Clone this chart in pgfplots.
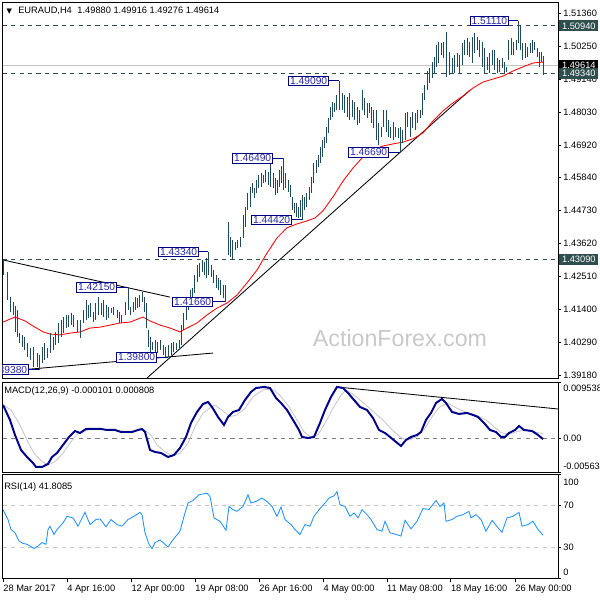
\documentclass[border=0pt]{standalone}
\usepackage{pgfplots}
\usepackage{pgfplotstable}
\pgfplotsset{compat=1.18}
\usepackage{fontspec}
\setmainfont{Liberation Sans}
\newfontfamily\dejavu{DejaVu Sans}
\definecolor{barc}{HTML}{1E4A5C}
\definecolor{lbl}{HTML}{000080}
\definecolor{lbltext}{RGB}{40,40,170}
\definecolor{slate}{HTML}{2F4F4F}
\definecolor{macdc}{HTML}{00008B}
\definecolor{rsic}{HTML}{1E90FF}
\definecolor{wmark}{RGB}{200,200,200}

% H4 bars: x in chart pixels, low, high
\pgfplotstableread{
x l h
3 1.4257 1.4307
7 1.4172 1.4266
10 1.4132 1.4182
13 1.4122 1.4166
15 1.4065 1.4152
17 1.4048 1.4139
19 1.4028 1.4061
22 1.4014 1.4055
24 1.4004 1.4048
27 1.3981 1.4028
30 1.3971 1.4011
33 1.3947 1.4014
37 1.3947 1.3994
39 1.3938 1.3988
42 1.3961 1.4014
44 1.3971 1.4028
47 1.3977 1.4011
50 1.3994 1.4061
53 1.4004 1.4048
55 1.4021 1.4065
58 1.4028 1.4095
61 1.4048 1.4105
63 1.4061 1.4115
66 1.4078 1.4122
68 1.4081 1.4122
71 1.4088 1.4129
73 1.4081 1.4122
77 1.4065 1.4105
80 1.4044 1.4105
83 1.4095 1.4139
86 1.4105 1.4172
88 1.4112 1.4155
90 1.4115 1.4162
93 1.4098 1.4132
95 1.4105 1.4162
98 1.4122 1.4182
101 1.4122 1.4162
103 1.4115 1.4172
106 1.4105 1.4155
108 1.4112 1.4149
111 1.4129 1.4145
113 1.4122 1.4149
117 1.4112 1.4139
119 1.4095 1.4132
121 1.4095 1.4122
125 1.4122 1.4166
128 1.4139 1.4215
130 1.4122 1.4149
133 1.4132 1.4166
135 1.4139 1.4182
137 1.4145 1.4179
139 1.4149 1.4189
142 1.4166 1.4199
144 1.4132 1.4182
146 1.4078 1.4162
148 1.4014 1.4071
150 1.3998 1.4048
152 1.4004 1.4031
155 1.3994 1.4038
157 1.3994 1.4031
160 1.4004 1.4038
163 1.3988 1.4021
165 1.3981 1.4014
168 1.3980 1.4021
171 1.3988 1.4028
173 1.3998 1.4031
176 1.4004 1.4028
179 1.4011 1.4038
181 1.4021 1.4088
183 1.4071 1.4129
186 1.4105 1.4172
188 1.4139 1.4182
190 1.4162 1.4206
192 1.4172 1.4213
194 1.4196 1.4256
197 1.4233 1.4290
199 1.4250 1.4297
202 1.4266 1.4307
204 1.4256 1.4300
206 1.4246 1.4314
208 1.4256 1.4334
211 1.4250 1.4290
213 1.4229 1.4273
216 1.4213 1.4256
218 1.4206 1.4246
220 1.4189 1.4240
223 1.4179 1.4223
225 1.4166 1.4223
228 1.4324 1.4434
230 1.4317 1.4384
232 1.4310 1.4374
235 1.4340 1.4367
237 1.4347 1.4374
240 1.4350 1.4384
243 1.4381 1.4458
245 1.4418 1.4485
247 1.4475 1.4532
250 1.4485 1.4552
252 1.4532 1.4566
254 1.4515 1.4549
256 1.4532 1.4576
258 1.4549 1.4592
261 1.4552 1.4599
263 1.4566 1.4592
265 1.4569 1.4609
268 1.4559 1.4603
270 1.4552 1.4633
273 1.4549 1.4599
275 1.4525 1.4582
277 1.4532 1.4576
279 1.4552 1.4609
281 1.4566 1.4623
283 1.4542 1.4649
285 1.4549 1.4599
288 1.4535 1.4576
290 1.4519 1.4559
292 1.4475 1.4519
294 1.4465 1.4498
296 1.4451 1.4498
298 1.4448 1.4485
300 1.4451 1.4508
302 1.4442 1.4525
304 1.4475 1.4519
306 1.4485 1.4532
309 1.4508 1.4552
311 1.4532 1.4586
313 1.4566 1.4633
316 1.4599 1.4643
318 1.4620 1.4660
320 1.4633 1.4687
322 1.4653 1.4710
324 1.4683 1.4720
326 1.4700 1.4754
328 1.4734 1.4784
330 1.4777 1.4821
332 1.4787 1.4838
334 1.4804 1.4834
336 1.4811 1.4861
339 1.4811 1.4909
342 1.4811 1.4868
344 1.4801 1.4861
347 1.4787 1.4855
349 1.4777 1.4868
352 1.4787 1.4845
354 1.4777 1.4838
357 1.4761 1.4821
359 1.4767 1.4811
362 1.4811 1.4878
364 1.4794 1.4851
367 1.4784 1.4834
369 1.4801 1.4834
371 1.4767 1.4821
373 1.4750 1.4811
376 1.4710 1.4811
378 1.4693 1.4767
381 1.4720 1.4754
383 1.4754 1.4811
386 1.4737 1.4811
388 1.4720 1.4777
390 1.4717 1.4754
393 1.4710 1.4771
395 1.4720 1.4754
398 1.4717 1.4750
400 1.4669 1.4754
402 1.4700 1.4744
405 1.4710 1.4801
407 1.4754 1.4804
410 1.4720 1.4787
412 1.4750 1.4804
415 1.4744 1.4801
417 1.4767 1.4811
420 1.4784 1.4811
422 1.4794 1.4868
424 1.4845 1.4895
427 1.4878 1.4942
429 1.4902 1.4952
432 1.4919 1.4972
434 1.4935 1.4989
436 1.4956 1.5029
438 1.4969 1.5039
441 1.4996 1.5036
443 1.4986 1.5039
446 1.4922 1.5073
449 1.4929 1.5006
452 1.4935 1.4986
454 1.4935 1.4996
457 1.4956 1.5003
459 1.4935 1.4996
462 1.4962 1.5036
464 1.4996 1.5046
467 1.4996 1.5053
469 1.4989 1.5039
472 1.4969 1.5056
474 1.5002 1.5070
477 1.5013 1.5056
479 1.4989 1.5046
482 1.4956 1.5039
484 1.4935 1.5019
487 1.4945 1.4989
489 1.4935 1.5003
492 1.4962 1.5013
494 1.4945 1.5013
497 1.4935 1.4986
499 1.4939 1.4979
502 1.4952 1.4986
504 1.4935 1.4972
506 1.4939 1.4956
508 1.4979 1.5046
511 1.4996 1.5053
513 1.4996 1.5039
516 1.5013 1.5046
518 1.5036 1.5111
520 1.5013 1.5097
522 1.4979 1.5036
525 1.4986 1.5036
527 1.4989 1.5023
530 1.5002 1.5036
532 1.5002 1.5046
534 1.5013 1.5039
537 1.4989 1.5019
539 1.4956 1.5006
541 1.4972 1.5006
543 1.4928 1.4992
}\price

\pgfplotstableread{
x y
3 1.4098
15 1.4115
25 1.4102
33 1.4085
43 1.4065
50 1.4058
60 1.4055
70 1.4061
80 1.4065
90 1.4078
100 1.4081
110 1.4088
120 1.4095
130 1.4098
143 1.4115
150 1.4102
160 1.4088
170 1.4078
180 1.4065
187 1.4078
197 1.4095
207 1.4122
217 1.4145
227 1.4162
237 1.4189
247 1.4230
257 1.4273
267 1.4330
277 1.4381
287 1.4415
297 1.4428
307 1.4438
315 1.4448
323 1.4472
333 1.4519
343 1.4572
353 1.4616
363 1.4653
373 1.4676
383 1.4690
393 1.4697
403 1.4703
413 1.4714
423 1.4734
433 1.4774
443 1.4808
453 1.4835
463 1.4858
473 1.4885
483 1.4905
493 1.4915
503 1.4925
513 1.4942
523 1.4956
533 1.4969
543 1.4972
}\ma

\pgfplotstableread{
x y
3 0.00567
10 0.00314
15 0.00061
21 -0.00192
27 -0.00310
33 -0.00411
36 -0.00479
42 -0.00479
48 -0.00428
52 -0.00310
57 -0.00243
63 -0.00108
69 0.00027
75 0.00128
80 0.00094
86 0.00162
94 0.00162
101 0.00162
107 0.00145
115 0.00145
121 0.00111
126 0.00111
132 0.00111
138 0.00145
142 0.00162
145 0.00111
150 -0.00192
155 -0.00226
161 -0.00243
168 -0.00310
174 -0.00277
180 -0.00159
186 0.00027
191 0.00263
197 0.00449
203 0.00583
208 0.00617
212 0.00533
218 0.00364
224 0.00229
228 0.00364
233 0.00449
239 0.00482
245 0.00651
251 0.00786
256 0.00853
264 0.00870
270 0.00853
276 0.00685
281 0.00600
287 0.00482
293 0.00314
299 0.00145
302 0.00027
308 0.00010
314 0.00027
320 0.00263
325 0.00482
331 0.00701
337 0.00870
343 0.00853
348 0.00769
354 0.00651
360 0.00533
367 0.00482
373 0.00347
379 0.00145
385 0.00094
390 0.00027
396 -0.00057
401 -0.00125
406 -0.00024
411 0.00027
417 0.00061
421 0.00111
426 0.00314
431 0.00432
436 0.00600
442 0.00668
446 0.00600
452 0.00449
459 0.00415
467 0.00432
473 0.00398
478 0.00364
484 0.00263
490 0.00145
496 0.00111
501 0.00027
505 0.00027
509 0.00094
515 0.00145
519 0.00212
524 0.00145
532 0.00128
538 0.00061
543 -0.00010
}\macd

\pgfplotstableread{
x y
3 0.00567
11 0.00482
19 0.00258
27 -0.00024
34 -0.00248
42 -0.00389
48 -0.00445
55 -0.00389
63 -0.00248
71 -0.00052
78 0.00089
88 0.00145
100 0.00157
111 0.00145
122 0.00128
134 0.00128
144 0.00145
151 0.00061
157 -0.00108
165 -0.00221
172 -0.00293
180 -0.00248
188 -0.00079
195 0.00201
203 0.00427
214 0.00567
222 0.00482
230 0.00369
237 0.00398
245 0.00511
253 0.00706
264 0.00831
274 0.00819
281 0.00706
289 0.00538
297 0.00314
304 0.00116
310 0.00032
318 0.00061
325 0.00258
333 0.00511
341 0.00735
346 0.00819
354 0.00735
364 0.00595
373 0.00454
383 0.00314
392 0.00145
402 0.00005
409 -0.00024
417 0.00032
425 0.00174
432 0.00369
440 0.00538
448 0.00595
457 0.00511
467 0.00437
476 0.00398
486 0.00314
494 0.00201
501 0.00099
509 0.00078
517 0.00116
524 0.00145
534 0.00116
543 0.00081
}\signal

\pgfplotstableread{
x y
3 66.2
8 56.7
11 47.1
15 44.0
19 36.0
23 33.8
27 32.9
31 30.7
34 28.8
38 31.2
42 34.5
46 32.9
48 47.1
50 50.3
54 42.4
57 47.1
63 53.5
67 59.8
73 58.3
78 50.3
85 63.6
90 51.9
96 56.7
100 57.3
106 49.7
111 56.7
117 51.9
122 50.3
128 56.7
134 59.8
140 63.6
142 61.4
145 44.0
149 32.9
152 28.8
155 34.5
160 37.0
165 32.9
168 30.3
172 36.0
176 40.8
180 45.5
184 59.8
188 72.6
193 75.0
199 80.5
207 82.1
210 78.9
214 58.3
220 55.0
226 46.4
229 69.3
233 66.2
237 64.6
243 69.3
248 80.5
251 72.6
256 74.1
262 77.4
267 74.1
272 69.3
277 59.8
281 68.7
285 56.7
291 51.9
295 47.1
300 42.4
305 51.9
310 50.3
314 59.8
320 67.3
325 72.6
329 77.4
334 79.5
337 83.6
340 71.0
345 69.3
350 59.8
354 63.0
358 58.3
362 66.2
367 61.4
371 56.7
377 47.1
382 45.5
385 55.0
390 44.0
396 42.4
401 40.8
405 56.0
411 47.8
417 55.0
423 67.3
429 66.4
436 75.0
440 69.3
444 72.6
446 55.0
452 56.7
457 59.8
463 61.4
469 64.6
471 58.3
476 61.4
481 56.7
486 45.5
492 56.0
498 48.7
502 44.5
507 58.3
513 59.8
519 63.6
522 50.3
528 51.9
533 55.0
538 47.1
543 41.8
}\rsi

\pgfplotsset{
  mt/.style={scale only axis, width=13.8825cm, xmin=2.7, xmax=558,
    anchor=south west, axis line style={line width=0.7pt},
    ytick pos=right, yticklabel pos=right, tick align=outside,
    major tick length=0.075cm, tick style={black, line width=0.5pt},
    tick label style={font=\fontsize{6.6}{8}\selectfont},
    yticklabel style={anchor=west, inner xsep=1.5pt},
    scaled y ticks=false}
}
\tikzset{
  box/.style={draw=lbl, fill=white, text=lbltext, line width=0.6pt,
    inner xsep=1pt, inner ysep=0.8pt, text height=5.2pt, text depth=0pt,
    font=\fontsize{7.3}{8}\selectfont},
  hl/.style={fill=#1, text=white, anchor=west, inner xsep=2pt, inner ysep=0pt,
    minimum height=0.27cm, text height=4.8pt, text depth=0pt,
    font=\fontsize{6.6}{8}\selectfont},
  con/.style={lbl, line width=0.6pt}
}

\begin{document}
\begin{tikzpicture}[font=\fontsize{6.6}{8}\selectfont]
\useasboundingbox (0,0) rectangle (15cm,-15cm);

% ---- price panel ----
\begin{axis}[mt, at={(0.0675cm,-9.4625cm)}, height=9.4125cm,
  ymin=1.39084, ymax=1.5174, xtick=\empty,
  ytick={1.3918,1.4029,1.4140,1.4251,1.4362,1.4473,1.4584,1.4692,1.4803,1.4914,1.5025,1.5136},
  yticklabels={1.39180,1.40290,1.41400,1.42510,1.43620,1.44730,1.45840,1.46920,1.48030,1.49140,1.50250,1.51360}]
\node[text=wmark, font=\fontsize{16.5}{18}\selectfont] at (axis cs:400,1.4045) {ActionForex.com};
\addplot[gray!45, line width=0.7pt] coordinates {(2.7,1.49614) (558,1.49614)};
\addplot[slate, dashed, line width=0.6pt] coordinates {(2.7,1.5094) (558,1.5094)};
\addplot[slate, dashed, line width=0.6pt] coordinates {(2.7,1.4934) (558,1.4934)};
\addplot[slate, dashed, line width=0.6pt] coordinates {(2.7,1.4309) (558,1.4309)};
\addplot[black, line width=0.6pt] coordinates {(3,1.4307) (170,1.4182)};
\addplot[black, line width=0.6pt] coordinates {(3,1.3932) (213,1.3994)};
\addplot[black, line width=0.6pt] coordinates {(147,1.3910) (470,1.4878)};
\addplot[red, line width=0.6pt] table {\ma};
\addplot[draw=none, error bars/.cd, y dir=plus, y explicit, error mark=none,
  error bar style={draw=barc, line width=0.6pt, solid}]
  table[x=x, y=l, y error expr=\thisrow{h}-\thisrow{l}] {\price};
% labelled highs and lows
\node[box, anchor=east] at (axis cs:509,1.5111) {1.51110};
\draw[con] (axis cs:509,1.5111) -- (axis cs:518,1.5111);
\node[box, anchor=east] at (axis cs:329,1.4909) {1.49090};
\draw[con] (axis cs:329,1.4909) -- (axis cs:339,1.4909);
\node[box, anchor=east] at (axis cs:273,1.4649) {1.46490};
\draw[con] (axis cs:273,1.4649) -- (axis cs:283,1.4649);
\node[box, anchor=east] at (axis cs:389,1.4669) {1.46690};
\draw[con] (axis cs:389,1.4669) -- (axis cs:400,1.4669);
\node[box, anchor=east] at (axis cs:292,1.4442) {1.44420};
\draw[con] (axis cs:292,1.4442) -- (axis cs:302,1.4442);
\node[box, anchor=east] at (axis cs:199,1.4334) {1.43340};
\draw[con] (axis cs:199,1.4334) -- (axis cs:208,1.4334);
\node[box, anchor=east] at (axis cs:117,1.4215) {1.42150};
\draw[con] (axis cs:117,1.4215) -- (axis cs:128,1.4215);
\node[box, anchor=east] at (axis cs:213,1.4166) {1.41660};
\draw[con] (axis cs:213,1.4166) -- (axis cs:225,1.4166);
\node[box, anchor=east] at (axis cs:157,1.3980) {1.39800};
\draw[con] (axis cs:157,1.3980) -- (axis cs:168,1.3980);
\node[box, anchor=east] at (axis cs:29,1.3938) {1.39380};
\draw[con] (axis cs:29,1.3938) -- (axis cs:39,1.3938);
\coordinate (r1) at (axis cs:558,1.5094);
\coordinate (r2) at (axis cs:558,1.49614);
\coordinate (r3) at (axis cs:558,1.4934);
\coordinate (r4) at (axis cs:558,1.4309);
\end{axis}
\fill[white] (-0.1cm,0.1cm) rectangle (0.055cm,-9.5cm);
\node[hl=slate, xshift=0.025cm] at (r1) {1.50940};
\node[hl=black, xshift=0.025cm] at (r2) {1.49614};
\node[hl=slate, xshift=0.025cm] at (r3) {1.49340};
\node[hl=slate, xshift=0.025cm] at (r4) {1.43090};
\node[anchor=west, inner sep=0pt] at (0.16cm,-0.28cm) {{\dejavu\fontsize{5}{6}\selectfont ▼}};
\node[anchor=west, inner sep=0pt] at (0.45cm,-0.28cm) {EURAUD,H4\hspace{0.6em}1.49880 1.49916 1.49276 1.49614};

% ---- MACD panel ----
\begin{axis}[mt, at={(0.0675cm,-11.8cm)}, height=2.25cm, clip=false,
  ymin=-0.005637, ymax=0.009538, xtick=\empty,
  ytick={-0.005637,0,0.009538}, yticklabels={,0.00,}]
\addplot[gray, dashed, line width=0.5pt] coordinates {(2.7,0) (558,0)};
\addplot[black, line width=0.6pt] coordinates {(337,0.00870) (558,0.00499)};
\addplot[gray!45, line width=0.6pt] table {\signal};
\addplot[macdc, line width=1.4pt] table {\macd};
\node[anchor=west, inner sep=0pt] at (axis cs:4,0.00795) {MACD(12,26,9) -0.000101 0.000808};
\node[anchor=west, inner sep=0pt, xshift=0.125cm] at (axis cs:558,0.008526) {0.009538};
\node[anchor=west, inner sep=0pt, xshift=0.125cm] at (axis cs:558,-0.00471) {-0.005637};
\end{axis}

% ---- RSI panel ----
\begin{axis}[mt, at={(0.0675cm,-14.4625cm)}, height=2.6cm, clip=false,
  ymin=0, ymax=100, ytick={0,30,70,100}, yticklabels={,30,70,},
  xtick={3.1,67,131.3,195.2,259.1,323.3,386.9,450.8,515.1},
  xticklabels={28 Mar 2017,4 Apr 16:00,12 Apr 00:00,19 Apr 08:00,26 Apr 16:00,4 May 00:00,11 May 08:00,18 May 16:00,26 May 00:00},
  xticklabel style={anchor=north west, inner xsep=0pt, inner ysep=2pt},
  xtick pos=bottom]
\addplot[gray!45, dashed, line width=0.5pt] coordinates {(2.7,70) (558,70)};
\addplot[gray!45, dashed, line width=0.5pt] coordinates {(2.7,30) (558,30)};
\addplot[rsic, line width=0.6pt] table {\rsi};
\node[anchor=west, inner sep=0pt] at (axis cs:4,88) {RSI(14) 41.8085};
\node[anchor=west, inner sep=0pt, xshift=0.125cm] at (axis cs:558,92.8) {100};
\node[anchor=west, inner sep=0pt, xshift=0.125cm] at (axis cs:558,5.6) {0};
\end{axis}
\end{tikzpicture}
\end{document}
